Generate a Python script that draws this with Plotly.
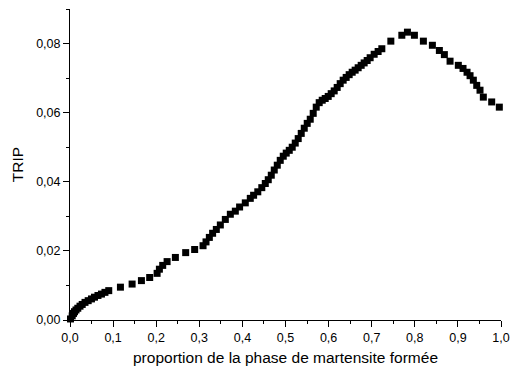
import plotly.graph_objects as go

proportion = [0.0012, 0.0051, 0.0081, 0.0104, 0.0139, 0.0181, 0.0232, 0.0283, 0.0348, 0.0422,
              0.0498, 0.0568, 0.0649, 0.0730, 0.0811, 0.0899, 0.1170, 0.1441, 0.1657, 0.1849,
              0.2021, 0.2074, 0.2151, 0.2253, 0.2445, 0.2684, 0.2892, 0.3087, 0.3156, 0.3233,
              0.3309, 0.3395, 0.3488, 0.3604, 0.3720, 0.3836, 0.3935, 0.4067, 0.4183, 0.4260,
              0.4357, 0.4450, 0.4531, 0.4600, 0.4670, 0.4739, 0.4809, 0.4878, 0.4948, 0.5017,
              0.5087, 0.5156, 0.5226, 0.5295, 0.5365, 0.5435, 0.5504, 0.5574, 0.5643, 0.5713,
              0.5782, 0.5852, 0.5921, 0.5991, 0.6060, 0.6130, 0.6199, 0.6269, 0.6338, 0.6408,
              0.6477, 0.6547, 0.6616, 0.6686, 0.6756, 0.6825, 0.6895, 0.6964, 0.7057, 0.7149,
              0.7235, 0.7444, 0.7699, 0.7829, 0.7991, 0.8199, 0.8408, 0.8570, 0.8686, 0.8818,
              0.9010, 0.9119, 0.9212, 0.9282, 0.9358, 0.9437, 0.9513, 0.9590, 0.9784, 0.9961]

trip = [0.0003, 0.0012, 0.0019, 0.0024, 0.0029, 0.0034, 0.0040, 0.0045, 0.0051, 0.0056,
        0.0061, 0.0066, 0.0071, 0.0075, 0.0080, 0.0085, 0.0095, 0.0104, 0.0114, 0.0123,
        0.0135, 0.0147, 0.0158, 0.0169, 0.0181, 0.0195, 0.0204, 0.0215, 0.0226, 0.0239,
        0.0251, 0.0262, 0.0275, 0.0291, 0.0306, 0.0315, 0.0327, 0.0339, 0.0352, 0.0361,
        0.0371, 0.0383, 0.0395, 0.0406, 0.0419, 0.0434, 0.0448, 0.0462, 0.0474, 0.0483,
        0.0491, 0.0500, 0.0512, 0.0525, 0.0540, 0.0555, 0.0569, 0.0581, 0.0598, 0.0616,
        0.0629, 0.0636, 0.0641, 0.0647, 0.0655, 0.0663, 0.0673, 0.0684, 0.0694, 0.0702,
        0.0710, 0.0717, 0.0723, 0.0730, 0.0737, 0.0744, 0.0751, 0.0759, 0.0769, 0.0777,
        0.0785, 0.0807, 0.0824, 0.0833, 0.0824, 0.0807, 0.0795, 0.0780, 0.0768, 0.0749,
        0.0737, 0.0728, 0.0717, 0.0707, 0.0694, 0.0679, 0.0665, 0.0645, 0.0631, 0.0616]

x_title = "proportion de la phase de martensite formée"
y_title = "TRIP"

fig = go.Figure()
fig.add_trace(go.Scatter(
    x=proportion, y=trip, mode="markers",
    marker=dict(symbol="square", size=7, color="black", line=dict(width=0)),
    cliponaxis=False, showlegend=False,
))

font = dict(family="Liberation Sans, Arial, sans-serif", color="black")
axis_common = dict(
    showline=True, linecolor="black", linewidth=1, mirror=False, automargin=False,
    showgrid=False, zeroline=False, ticks="outside", ticklen=6, tickwidth=1,
    tickcolor="black", tickfont=dict(size=12.5, **font),
)

fig.update_layout(
    width=510, height=372,
    margin=dict(l=70, r=9, t=9, b=52),
    paper_bgcolor="white", plot_bgcolor="white",
    separators=", ",
    font=font,
    xaxis=dict(range=[0, 1], dtick=0.1, tick0=0, tickformat=".1f",
               minor=dict(ticks="outside", ticklen=3, dtick=0.05, tickcolor="black"),
               title=dict(text=x_title, font=dict(size=15.5, **font), standoff=8),
               **axis_common),
    yaxis=dict(range=[0, 0.09], dtick=0.02, tick0=0, tickformat=".2f",
               minor=dict(ticks="outside", ticklen=3, dtick=0.01, tickcolor="black"),
               title=dict(text=y_title, font=dict(size=15.5, **font), standoff=8),
               **axis_common),
)

fig.write_html("out.html", config={"displayModeBar": False},
               post_script="document.body.style.margin='0';")
